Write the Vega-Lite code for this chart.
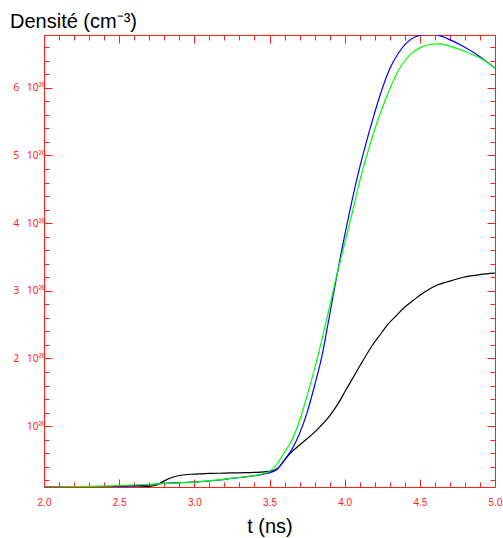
{
  "$schema": "https://vega.github.io/schema/vega-lite/v6.json",
  "width": 451,
  "height": 452,
  "autosize": "none",
  "padding": {"left": 44, "top": 35, "right": 8, "bottom": 51},
  "background": "white",
  "config": {"view": {"stroke": null}, "font": "Liberation Sans"},
  "title": {"text": "Densité (cm⁻³)", "anchor": "start", "frame": "group", "dx": -34, "offset": 3, "fontSize": 20, "fontWeight": "normal", "color": "black", "font": "Liberation Sans"},
  "data": {"values": [
    {"s": "k", "t": 2.0, "v": 0.10}, {"s": "k", "t": 2.3, "v": 0.10}, {"s": "k", "t": 2.6, "v": 0.10},
    {"s": "k", "t": 2.7, "v": 0.11}, {"s": "k", "t": 2.75, "v": 0.13}, {"s": "k", "t": 2.8, "v": 0.19},
    {"s": "k", "t": 2.85, "v": 0.24}, {"s": "k", "t": 2.9, "v": 0.27}, {"s": "k", "t": 2.95, "v": 0.285},
    {"s": "k", "t": 3.0, "v": 0.29}, {"s": "k", "t": 3.1, "v": 0.30}, {"s": "k", "t": 3.2, "v": 0.305},
    {"s": "k", "t": 3.3, "v": 0.31}, {"s": "k", "t": 3.4, "v": 0.315}, {"s": "k", "t": 3.5, "v": 0.33},
    {"s": "k", "t": 3.55, "v": 0.37}, {"s": "k", "t": 3.6, "v": 0.50}, {"s": "k", "t": 3.64, "v": 0.60},
    {"s": "k", "t": 3.7, "v": 0.72}, {"s": "k", "t": 3.8, "v": 0.91}, {"s": "k", "t": 3.9, "v": 1.15},
    {"s": "k", "t": 3.95, "v": 1.31}, {"s": "k", "t": 4.01, "v": 1.54}, {"s": "k", "t": 4.07, "v": 1.77},
    {"s": "k", "t": 4.125, "v": 1.98}, {"s": "k", "t": 4.18, "v": 2.18}, {"s": "k", "t": 4.236, "v": 2.35},
    {"s": "k", "t": 4.29, "v": 2.51}, {"s": "k", "t": 4.347, "v": 2.64}, {"s": "k", "t": 4.4, "v": 2.76},
    {"s": "k", "t": 4.457, "v": 2.86}, {"s": "k", "t": 4.51, "v": 2.95}, {"s": "k", "t": 4.568, "v": 3.03},
    {"s": "k", "t": 4.62, "v": 3.09}, {"s": "k", "t": 4.68, "v": 3.13}, {"s": "k", "t": 4.74, "v": 3.17},
    {"s": "k", "t": 4.79, "v": 3.20}, {"s": "k", "t": 4.9, "v": 3.24}, {"s": "k", "t": 5.0, "v": 3.26},

    {"s": "b", "t": 2.0, "v": 0.10}, {"s": "b", "t": 2.5, "v": 0.11}, {"s": "b", "t": 2.7, "v": 0.13},
    {"s": "b", "t": 2.77, "v": 0.15}, {"s": "b", "t": 2.9, "v": 0.165}, {"s": "b", "t": 3.04, "v": 0.18},
    {"s": "b", "t": 3.15, "v": 0.20}, {"s": "b", "t": 3.26, "v": 0.23}, {"s": "b", "t": 3.38, "v": 0.26},
    {"s": "b", "t": 3.48, "v": 0.30}, {"s": "b", "t": 3.55, "v": 0.36}, {"s": "b", "t": 3.61, "v": 0.53},
    {"s": "b", "t": 3.65, "v": 0.66}, {"s": "b", "t": 3.7, "v": 0.89}, {"s": "b", "t": 3.75, "v": 1.2},
    {"s": "b", "t": 3.8, "v": 1.6}, {"s": "b", "t": 3.85, "v": 2.05}, {"s": "b", "t": 3.89, "v": 2.52},
    {"s": "b", "t": 3.936, "v": 3.08}, {"s": "b", "t": 3.97, "v": 3.48}, {"s": "b", "t": 4.036, "v": 4.2},
    {"s": "b", "t": 4.08, "v": 4.64}, {"s": "b", "t": 4.136, "v": 5.13}, {"s": "b", "t": 4.19, "v": 5.56},
    {"s": "b", "t": 4.246, "v": 5.96}, {"s": "b", "t": 4.30, "v": 6.28}, {"s": "b", "t": 4.357, "v": 6.51},
    {"s": "b", "t": 4.41, "v": 6.66}, {"s": "b", "t": 4.468, "v": 6.75}, {"s": "b", "t": 4.52, "v": 6.78},
    {"s": "b", "t": 4.59, "v": 6.79}, {"s": "b", "t": 4.68, "v": 6.73}, {"s": "b", "t": 4.79, "v": 6.61},
    {"s": "b", "t": 4.90, "v": 6.46}, {"s": "b", "t": 5.0, "v": 6.29},

    {"s": "g", "t": 2.0, "v": 0.10}, {"s": "g", "t": 2.5, "v": 0.12}, {"s": "g", "t": 2.7, "v": 0.14},
    {"s": "g", "t": 2.9, "v": 0.16}, {"s": "g", "t": 3.04, "v": 0.18}, {"s": "g", "t": 3.26, "v": 0.23},
    {"s": "g", "t": 3.48, "v": 0.31}, {"s": "g", "t": 3.55, "v": 0.44}, {"s": "g", "t": 3.59, "v": 0.58},
    {"s": "g", "t": 3.65, "v": 0.80}, {"s": "g", "t": 3.70, "v": 1.08}, {"s": "g", "t": 3.75, "v": 1.45},
    {"s": "g", "t": 3.8, "v": 1.85}, {"s": "g", "t": 3.88, "v": 2.57}, {"s": "g", "t": 3.94, "v": 3.16},
    {"s": "g", "t": 4.0, "v": 3.7}, {"s": "g", "t": 4.05, "v": 4.15}, {"s": "g", "t": 4.10, "v": 4.62},
    {"s": "g", "t": 4.158, "v": 5.08}, {"s": "g", "t": 4.214, "v": 5.48}, {"s": "g", "t": 4.27, "v": 5.82},
    {"s": "g", "t": 4.327, "v": 6.12}, {"s": "g", "t": 4.38, "v": 6.34}, {"s": "g", "t": 4.436, "v": 6.49},
    {"s": "g", "t": 4.50, "v": 6.59}, {"s": "g", "t": 4.568, "v": 6.64}, {"s": "g", "t": 4.63, "v": 6.65},
    {"s": "g", "t": 4.72, "v": 6.60}, {"s": "g", "t": 4.83, "v": 6.51}, {"s": "g", "t": 4.94, "v": 6.39},
    {"s": "g", "t": 5.0, "v": 6.29}
  ]},
  "encoding": {
    "x": {"field": "t", "type": "quantitative", "scale": {"domain": [2, 5], "nice": false, "zero": false}},
    "y": {"field": "v", "type": "quantitative", "scale": {"domain": [0.1, 6.78], "nice": false, "zero": false}}
  },
  "layer": [
    {
      "transform": [{"filter": "datum.s == 'k'"}],
      "mark": {"type": "line", "color": "black", "strokeWidth": 1.2, "interpolate": "monotone", "clip": true},
      "encoding": {
        "x": {"field": "t", "type": "quantitative", "axis": {
          "orient": "bottom", "title": "t (ns)", "titleFontSize": 20, "titleFontWeight": "normal", "titleColor": "black", "titleFont": "Liberation Sans", "titlePadding": 6,
          "values": [2,2.1,2.2,2.3,2.4,2.5,2.6,2.7,2.8,2.9,3,3.1,3.2,3.3,3.4,3.5,3.6,3.7,3.8,3.9,4,4.1,4.2,4.3,4.4,4.5,4.6,4.7,4.8,4.9,5],
          "labelExpr": "abs(datum.value*2 - round(datum.value*2)) < 0.01 ? format(datum.value, '.1f') : ''",
          "tickSize": {"condition": {"test": "abs(datum.value*2 - round(datum.value*2)) < 0.01", "value": -8}, "value": -5},
          "domainColor": "#ff2020", "tickColor": "#ff2020", "labelColor": "#ff2020", "labelFontSize": 10, "labelFont": "Liberation Sans", "labelPadding": 18,
          "grid": false, "labelOverlap": false, "labelFlush": false
        }},
        "y": {"field": "v", "type": "quantitative", "axis": {
          "orient": "left", "title": null,
          "values": [0.2,0.4,0.6,0.8,1,1.2,1.4,1.6,1.8,2,2.2,2.4,2.6,2.8,3,3.2,3.4,3.6,3.8,4,4.2,4.4,4.6,4.8,5,5.2,5.4,5.6,5.8,6,6.2,6.4,6.6],
          "labelExpr": "abs(datum.value - round(datum.value)) < 0.01 ? (round(datum.value) == 1 ? '10²⁰' : format(round(datum.value), 'd') + '\u00a0\u00a0\u00a010²⁰') : ''",
          "tickSize": {"condition": {"test": "abs(datum.value - round(datum.value)) < 0.01", "value": -8}, "value": -5},
          "domainColor": "#ff2020", "tickColor": "#ff2020", "labelColor": "#ff2020", "labelFontSize": 10, "labelFont": "Noto Sans", "labelPadding": 7,
          "grid": false, "labelOverlap": false, "labelFlush": false
        }}
      }
    },
    {
      "transform": [{"filter": "datum.s == 'b'"}],
      "mark": {"type": "line", "color": "#0000ff", "strokeWidth": 1.2, "interpolate": "monotone", "clip": true},
      "encoding": {
        "x": {"field": "t", "type": "quantitative", "axis": {
          "orient": "top", "title": null, "labels": false,
          "values": [2,2.1,2.2,2.3,2.4,2.5,2.6,2.7,2.8,2.9,3,3.1,3.2,3.3,3.4,3.5,3.6,3.7,3.8,3.9,4,4.1,4.2,4.3,4.4,4.5,4.6,4.7,4.8,4.9,5],
          "tickSize": {"condition": {"test": "abs(datum.value*2 - round(datum.value*2)) < 0.01", "value": -8}, "value": -5},
          "domainColor": "#ff2020", "tickColor": "#ff2020", "grid": false
        }},
        "y": {"field": "v", "type": "quantitative", "axis": {
          "orient": "right", "title": null, "labels": false,
          "values": [0.2,0.4,0.6,0.8,1,1.2,1.4,1.6,1.8,2,2.2,2.4,2.6,2.8,3,3.2,3.4,3.6,3.8,4,4.2,4.4,4.6,4.8,5,5.2,5.4,5.6,5.8,6,6.2,6.4,6.6],
          "tickSize": {"condition": {"test": "abs(datum.value - round(datum.value)) < 0.01", "value": -8}, "value": -5},
          "domainColor": "#ff2020", "tickColor": "#ff2020", "grid": false
        }}
      }
    },
    {
      "transform": [{"filter": "datum.s == 'g'"}],
      "mark": {"type": "line", "color": "#00ff00", "strokeWidth": 1.2, "interpolate": "monotone", "clip": true},
      "encoding": {
        "x": {"field": "t", "type": "quantitative", "axis": null},
        "y": {"field": "v", "type": "quantitative", "axis": null}
      }
    }
  ],
  "resolve": {"axis": {"x": "independent", "y": "independent"}}
}
